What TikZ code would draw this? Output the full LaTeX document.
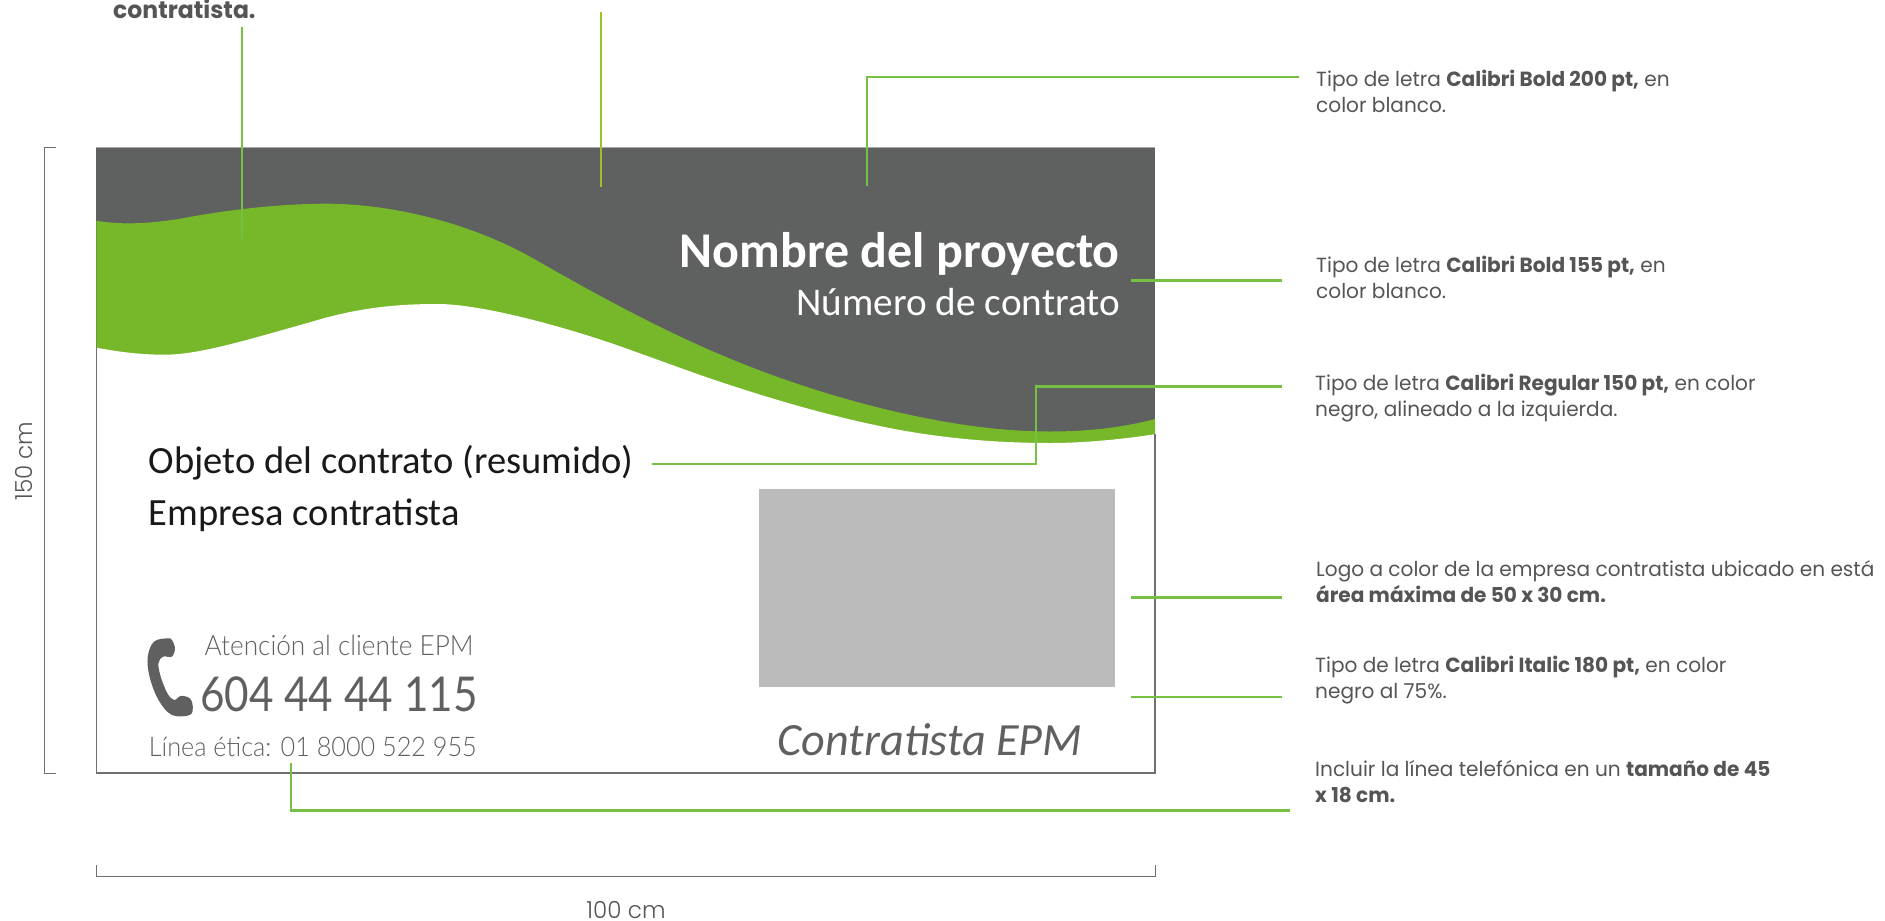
\documentclass[tikz,border=0pt]{standalone}
\usepackage{fontspec}
\setmainfont{Poppins}
\newfontfamily\cali{Carlito}
\newfontfamily\note[FakeStretch=0.98]{Poppins}
\newfontfamily\notel[FakeStretch=0.98]{Poppins Light}
\newfontfamily\thinp[FakeStretch=0.935]{Lato Light}
\newfontfamily\telf[FakeStretch=0.88]{Lato}
\definecolor{slate}{HTML}{5F6160}
\definecolor{leaf}{HTML}{76B82A}
\definecolor{wire}{HTML}{76C043}
\definecolor{olive}{HTML}{9DC12B}
\definecolor{txt}{HTML}{555555}
\definecolor{rulec}{HTML}{707070}
\definecolor{cardgrey}{HTML}{606060}
\tikzset{
  wirel/.style={draw=wire,line width=2.7pt},
  wiret/.style={draw=wire,line width=2.3pt},
  rulel/.style={draw=rulec,line width=1pt},
  notebox/.style={inner sep=0pt,anchor=base west,align=left,text=txt,font=\note\fontsize{20.5}{26}\selectfont},
  card/.style={inner sep=0pt,anchor=base west},
  cardr/.style={inner sep=0pt,anchor=base east},
  diml/.style={inner sep=0pt,anchor=base,text=txt,font=\notel\fontsize{23.5}{26}\selectfont},
}
\begin{document}
\begin{tikzpicture}[x=1pt,y=-1pt]
\useasboundingbox (0,0) rectangle (1885,921);
% panel
\fill[slate] (96.4,147) rectangle (1155,447);
\fill[leaf] (96.4,220.7) .. controls (115,224) and (140,225) .. (178.6,219)
  .. controls (225,210) and (280,203.7) .. (326,203.7)
  .. controls (390,203.7) and (470,222) .. (536,260)
  .. controls (590,291) and (645,321) .. (700,345.7)
  .. controls (765,375) and (835,398) .. (900,412.7)
  .. controls (950,424) and (1000,431.5) .. (1050,431.5)
  .. controls (1090,431.5) and (1125,427) .. (1155,419)
  -- (1155,455) -- (96.4,455) -- cycle;
\fill[white] (96.4,347.7) .. controls (120,352) and (140,354.7) .. (165,354.7)
  .. controls (200,354.7) and (250,339) .. (312,321.7)
  .. controls (360,307) and (400,304) .. (437.5,304)
  .. controls (485,304) and (575,330) .. (625,348)
  .. controls (650,357) and (675,366) .. (700,375)
  .. controls (767,398) and (835,418) .. (900,430)
  .. controls (950,439) and (1000,443) .. (1050,443)
  .. controls (1085,443) and (1125,439) .. (1156,434)
  -- (1156,470) -- (96.4,470) -- cycle;
\draw[draw=rulec,line width=1.2pt] (96.4,347) -- (96.4,773) -- (1155,773) -- (1155,434);
\draw[draw=rulec!60,line width=.8pt] (96.4,147) -- (1155,147);
\fill[color={rgb,255:red,187;green,187;blue,187}] (759,489) rectangle (1115,687);
% card texts
\node[cardr,text=white,font=\cali\bfseries\fontsize{50}{52}\selectfont] (title) at (1120,267.5) {Nombre del proyecto};
\node[cardr,text=white,font=\cali\fontsize{39.2}{42}\selectfont] (num) at (1120,315) {Número de contrato};
\node[card,text=black!90,font=\cali\fontsize{38.5}{42}\selectfont] (obj) at (148.7,473.5) {Objeto del contrato (resumido)};
\node[card,text=black!90,font=\cali\fontsize{38.5}{42}\selectfont] (emp) at (148.7,525.5) {Empresa contratista};
\node[card,text=cardgrey,font=\thinp\fontsize{28}{30}\selectfont] (att) at (204.5,655) {Atención al cliente EPM};
\node[card,text=cardgrey,font=\telf\fontsize{48}{50}\selectfont] (tel) at (200,711.7) {604 44 44 115};
\node[card,text=cardgrey,font=\thinp\fontsize{27}{30}\selectfont] (etica) at (148.7,756) {Línea ética: 01 8000 522 955};
\node[card,text=cardgrey,font=\cali\itshape\fontsize{46.2}{48}\selectfont] (contr) at (777.6,755) {Contratista EPM};
% phone icon
\begin{scope}[shift={(0,460)},x=0.4464pt,y=-0.3333pt]
\fill[cardgrey] plot[smooth cycle,tension=.6] coordinates {(375,535)(345,545)(331,590)(335,650)(355,720)(385,765)(425,765)(432,740)(425,715)(405,708)(390,720)(375,700)(360,650)(355,610)(365,590)(385,590)(392,565)(385,540)};
\end{scope}
% dimension rules
\coordinate (vt) at (56,147); \coordinate (vtc) at (44.6,147); \coordinate (vbc) at (44.6,773); \coordinate (vb) at (56,773);
\draw[rulel] (vt) -- (vtc) -- (vbc) -- (vb);
\coordinate (ha) at (96.9,865); \coordinate (hac) at (96.9,876.3); \coordinate (hbc) at (1155,876.3); \coordinate (hb) at (1155,865);
\draw[rulel] (ha) -- (hac) -- (hbc) -- (hb);
\node[diml] (dimw) at (626,918) {100 cm};
\node[diml,rotate=90] (dimh) at (32,461) {150 cm};
% top-left fragment
\node[card,text=txt,font=\note\bfseries\fontsize{24}{26}\selectfont] (frag) at (113,18) {contratista.};
% notes
\node[notebox] (n1) at (1316,112.7) {Tipo de letra \textbf{Calibri Bold 200 pt,} en\\color blanco.};
\node[notebox] (n2) at (1316,298.7) {Tipo de letra \textbf{Calibri Bold 155 pt,} en\\color blanco.};
\node[notebox] (n3) at (1315,416) {Tipo de letra \textbf{Calibri Regular 150 pt,} en color\\negro, alineado a la izquierda.};
\node[notebox] (n4) at (1316,602.7) {Logo a color de la empresa contratista ubicado en está\\\textbf{área máxima de 50 x 30 cm.}};
\node[notebox] (n5) at (1315,698.7) {Tipo de letra \textbf{Calibri Italic 180 pt,} en color\\negro al 75\%.};
\node[notebox] (n6) at (1315,802) {Incluir la línea telefónica en un \textbf{tamaño de 45}\\\textbf{x 18 cm.}};
% connectors
\coordinate (a1) at (242,27); \coordinate (b1) at (242,239);
\draw[wiret] (a1) -- (b1);
\coordinate (a2) at (601,12); \coordinate (b2) at (601,187);
\draw[draw=olive,line width=2.3pt] (a2) -- (b2);
\coordinate (a3) at (867,186); \coordinate (c3) at (867,77); \coordinate (b3) at (1299,77);
\draw[wirel] (a3) -- (c3) -- (b3);
\coordinate (a4) at (1131,280.7); \coordinate (b4) at (1282,280.7);
\draw[wirel] (a4) -- (b4);
\coordinate (a5) at (652,464); \coordinate (c5) at (1036,464); \coordinate (d5) at (1036,386.7); \coordinate (b5) at (1282,386.7);
\draw[wirel] (a5) -- (c5) -- (d5) -- (b5);
\coordinate (a6) at (1130.6,597.3); \coordinate (b6) at (1282,597.3);
\draw[wirel] (a6) -- (b6);
\coordinate (a7) at (1130.6,697); \coordinate (b7) at (1282,697);
\draw[wirel] (a7) -- (b7);
\coordinate (a8) at (291,762.7); \coordinate (c8) at (291,810.3); \coordinate (b8) at (1290,810.3);
\draw[wirel] (a8) -- (c8) -- (b8);
\end{tikzpicture}
\end{document}
